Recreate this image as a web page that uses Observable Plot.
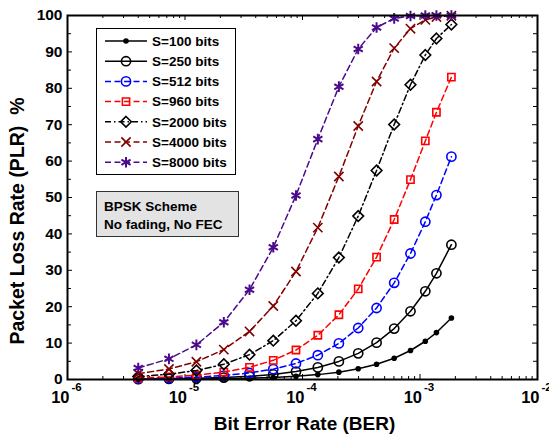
<!DOCTYPE html>
<html><head><meta charset="utf-8">
<script src="https://cdn.jsdelivr.net/npm/d3@7"></script>
<script src="https://cdn.jsdelivr.net/npm/@observablehq/plot@0.6"></script>
<style>
body{margin:0;background:#fff}
#chart{position:relative;width:549px;height:435px}
</style>
</head><body><div id="chart"></div>
<script>
// Bit error rate values (x) shared by all series
const BER = [4.0e-6, 7.3e-6, 1.25e-5, 2.14e-5, 3.54e-5, 5.64e-5, 8.8e-5, 1.35e-4, 2.04e-4, 2.98e-4, 4.27e-4, 6.03e-4, 8.3e-4, 1.11e-3, 1.38e-3, 1.85e-3];
// Packet loss rate (%) per packet size
const PLR_S100  = [0.04, 0.07, 0.12, 0.21, 0.35, 0.56, 0.88, 1.34, 2.02, 2.94, 4.18, 5.85, 7.97, 10.51, 12.89, 16.89];
const PLR_S250  = [0.10, 0.18, 0.31, 0.53, 0.88, 1.40, 2.18, 3.32, 4.97, 7.18, 10.12, 13.99, 18.74, 24.23, 29.18, 37.03];
const PLR_S512  = [0.20, 0.37, 0.64, 1.09, 1.80, 2.85, 4.41, 6.68, 9.92, 14.15, 19.64, 26.56, 34.62, 43.35, 50.67, 61.22];
const PLR_S960  = [0.38, 0.70, 1.19, 2.03, 3.34, 5.27, 8.10, 12.16, 17.79, 24.88, 33.63, 43.95, 54.92, 65.55, 73.41, 83.07];
const PLR_S2000 = [0.80, 1.45, 2.47, 4.19, 6.83, 10.67, 16.14, 23.66, 33.50, 44.90, 57.43, 70.06, 80.99, 89.14, 93.67, 97.53];
const PLR_S4000 = [1.59, 2.88, 4.88, 8.20, 13.20, 20.19, 29.67, 41.73, 55.78, 69.64, 81.88, 91.04, 96.38, 98.82, 99.60, 99.94];
const PLR_S8000 = [3.15, 5.67, 9.52, 15.73, 24.67, 36.31, 50.54, 66.04, 80.45, 90.78, 96.71, 99.20, 99.87, 99.99, 100, 100];

const seriesNames = ["S=100 bits", "S=250 bits", "S=512 bits", "S=960 bits", "S=2000 bits", "S=4000 bits", "S=8000 bits"];
const seriesValues = [PLR_S100, PLR_S250, PLR_S512, PLR_S960, PLR_S2000, PLR_S4000, PLR_S8000];
const seriesColors = ["#000000", "#000000", "#0000ff", "#ff0000", "#000000", "#800000", "#4b0a8c"];
const seriesDash = [null, null, "6,3.5", "6,3.5", "6,3,1.5,3", "6,3.5", "6,3.5"];
const seriesSymbol = ["circle", "circle", "circle", "square2", "diamond2", "times", "asterisk"];
const seriesR = [2, 4.6, 4.6, 4.6, 4.8, 4.3, 5];
const seriesFill = ["#000000", "none", "none", "none", "none", "none", "none"];

const xMajorTicks = [1e-6, 1e-5, 1e-4, 1e-3, 1e-2];
const xTickExponents = ["-6", "-5", "-4", "-3", "-2"];
const yTicks = [0, 10, 20, 30, 40, 50, 60, 70, 80, 90, 100];
const yMinorTicks = [5, 15, 25, 35, 45, 55, 65, 75, 85, 95];
const xMinorTicks = [];
for (let e = -6; e < -2; e++) for (let m = 2; m <= 9; m++) xMinorTicks.push(m * Math.pow(10, e));

const xLabel = "Bit Error Rate (BER)";
const yLabel = "Packet Loss Rate (PLR)  %";
const noteLines = ["BPSK Scheme", "No fading, No FEC"];

const W = 549, H = 435, mL = 67, mR = 12, mT = 15, mB = 56;
const pW = W - mL - mR, pH = H - mT - mB;
const FONT = "'Liberation Sans', Arial, Helvetica, sans-serif";

const rows = [];
seriesValues.forEach((vals, i) => vals.forEach((v, j) => rows.push({ber: BER[j], plr: v, s: seriesNames[i], i})));

const marks = [];
seriesNames.forEach((name, i) => {
  const d = rows.filter(r => r.i === i);
  marks.push(Plot.line(d, {x: "ber", y: "plr", stroke: seriesColors[i], strokeWidth: 1.5, strokeDasharray: seriesDash[i] || undefined}));
  marks.push(Plot.dot(d, {x: "ber", y: "plr", symbol: () => seriesSymbol[i], r: seriesR[i], stroke: seriesColors[i], fill: seriesFill[i], strokeWidth: i === 6 ? 2 : 1.6}));
});

const chart = Plot.plot({
  width: W, height: H,
  marginLeft: mL, marginRight: mR, marginTop: mT, marginBottom: mB,
  x: {type: "log", domain: [1e-6, 1e-2], axis: null},
  y: {domain: [0, 100], axis: null},
  symbol: {type: "identity"},
  style: {fontFamily: FONT, background: "white", color: "black", overflow: "visible"},
  marks: [
    // inner ticks, all four sides
    Plot.ruleX(xMajorTicks, {x: d => d, insetTop: pH - 5, stroke: "black", strokeWidth: 1}),
    Plot.ruleX(xMajorTicks, {x: d => d, insetBottom: pH - 5, stroke: "black", strokeWidth: 1}),
    Plot.ruleX(xMinorTicks, {x: d => d, insetTop: pH - 3, stroke: "black", strokeWidth: 1}),
    Plot.ruleX(xMinorTicks, {x: d => d, insetBottom: pH - 3, stroke: "black", strokeWidth: 1}),
    Plot.ruleY(yTicks, {y: d => d, insetRight: pW - 5, stroke: "black", strokeWidth: 1}),
    Plot.ruleY(yTicks, {y: d => d, insetLeft: pW - 5, stroke: "black", strokeWidth: 1}),
    Plot.ruleY(yMinorTicks, {y: d => d, insetRight: pW - 4, stroke: "black", strokeWidth: 1}),
    Plot.ruleY(yMinorTicks, {y: d => d, insetLeft: pW - 4, stroke: "black", strokeWidth: 1}),
    ...marks,
    Plot.frame({stroke: "black", strokeWidth: 2}),
    // tick labels
    Plot.text(yTicks, {y: d => d, text: d => String(d), frameAnchor: "left", textAnchor: "end", dx: -5, fontSize: 15.5, fontWeight: "bold", fill: "black"}),
    Plot.text(xMajorTicks, {x: d => d, text: () => "10", frameAnchor: "bottom", textAnchor: "end", dx: 2, dy: 23, fontSize: 16.5, fontWeight: "bold", fill: "black"}),
    Plot.text(xMajorTicks, {x: d => d, text: (d, k) => xTickExponents[k], frameAnchor: "bottom", textAnchor: "start", dx: 4, dy: 11, fontSize: 11.5, fontWeight: "bold", fill: "black"}),
    // x axis title
    Plot.text([xLabel], {text: d => d, frameAnchor: "bottom", dx: 2, dy: 50, fontSize: 19, fontWeight: "bold", fill: "black"})
  ]
});
document.getElementById("chart").appendChild(chart);

const svg = d3.select(chart);
// y axis title
svg.append("text").attr("transform", "translate(17,221) rotate(-90)")
  .attr("text-anchor", "middle").attr("dy", "0.35em")
  .attr("font-family", FONT).attr("font-weight", "bold").attr("font-size", 19.5).attr("fill", "black")
  .style("white-space", "pre").text(yLabel);

// Legend and annotation box
const symMap = {circle: d3.symbolCircle, square2: d3.symbolSquare2, diamond2: d3.symbolDiamond2, times: d3.symbolTimes, asterisk: d3.symbolAsterisk};
const lg = svg.append("g").attr("font-family", FONT).attr("font-weight", "bold").attr("font-size", 13.5).attr("text-anchor", "start");
lg.append("rect").attr("x", 96.5).attr("y", 28.5).attr("width", 139).attr("height", 146).attr("fill", "white").attr("stroke", "black").attr("stroke-width", 1);
seriesNames.forEach((name, i) => {
  const yy = 41 + i * 20.2;
  lg.append("line").attr("x1", 105).attr("x2", 147).attr("y1", yy).attr("y2", yy)
    .attr("stroke", seriesColors[i]).attr("stroke-width", 1.5).attr("stroke-dasharray", seriesDash[i]);
  lg.append("path").attr("transform", `translate(126,${yy})`)
    .attr("d", d3.symbol(symMap[seriesSymbol[i]], Math.PI * seriesR[i] * seriesR[i])())
    .attr("stroke", seriesColors[i]).attr("fill", seriesFill[i]).attr("stroke-width", i === 6 ? 2 : 1.6);
  lg.append("text").attr("x", 152).attr("y", yy).attr("dy", "0.35em").attr("text-anchor", "start").attr("fill", "black").text(name);
});
const ng = svg.append("g").attr("font-family", FONT).attr("font-weight", "bold").attr("font-size", 13.5).attr("text-anchor", "start");
ng.append("rect").attr("x", 96.5).attr("y", 191.5).attr("width", 142).attr("height", 45).attr("fill", "#e3e3e3").attr("stroke", "#333").attr("stroke-width", 1);
noteLines.forEach((t, k) => ng.append("text").attr("x", 104).attr("y", 211 + k * 18).attr("text-anchor", "start").attr("fill", "black").text(t));
</script>
</body></html>
